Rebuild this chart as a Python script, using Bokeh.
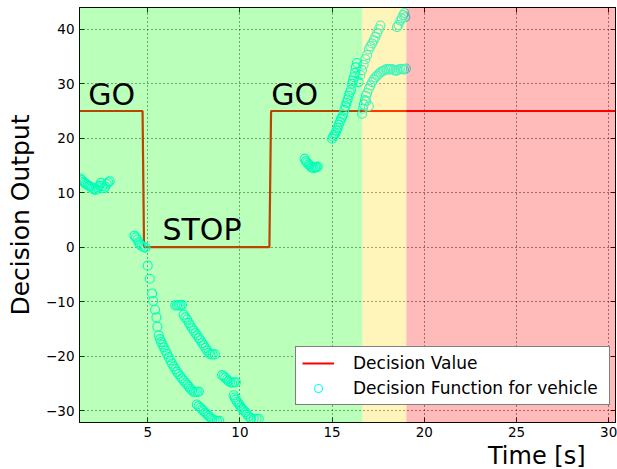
from bokeh.plotting import figure
from bokeh.models import (LinearAxis, FixedTicker, BoxAnnotation, Label, Legend,
                          LegendItem, ColumnDataSource, Title)
from bokeh.embed import file_html
from bokeh.resources import INLINE

# ---------------- data ----------------
x_ticks = [5, 10, 15, 20, 25, 30]
y_ticks = [-30, -20, -10, 0, 10, 20, 30, 40]

# decision value (step line)
dv_t = [1.3, 4.72, 4.80, 11.60, 11.69, 30.4]
dv_v = [25, 25, 0, 0, 25, 25]

# decision function samples, by branch
a_t = [1.35, 1.42, 1.50, 1.58, 1.66, 1.74, 1.82, 1.90, 1.98, 2.06, 2.14, 2.22, 2.30, 2.38, 2.46, 2.54, 2.62, 2.70, 2.78, 2.86, 2.94]
a_v = [12.6, 12.3, 12.0, 11.8, 11.6, 11.4, 11.2, 11.1, 10.9, 10.7, 10.5, 10.6, 11.0, 11.3, 11.8, 11.2, 10.8, 11.1, 11.6, 11.9, 12.1]

b_t = [4.28, 4.36, 4.44, 4.50, 4.58, 4.66, 4.78, 4.88]
b_v = [2.1, 1.8, 1.4, 0.9, 0.5, 0.2, 0.0, -0.1]

c_t = [5.00, 5.11, 5.24, 5.30, 5.40, 5.47, 5.52, 5.60, 5.67, 5.73, 5.80, 5.87, 5.96, 6.05, 6.14, 6.23, 6.32, 6.41, 6.50, 6.59, 6.68, 6.77, 6.86, 6.95, 7.04, 7.14, 7.23, 7.32, 7.41, 7.50, 7.60, 7.70, 7.78]
c_v = [-3.4, -5.8, -8.5, -9.9, -11.5, -12.9, -14.6, -16.2, -16.9, -17.4, -17.9, -18.4, -19.0, -19.6, -20.2, -20.8, -21.4, -21.9, -22.4, -22.9, -23.3, -23.7, -24.1, -24.5, -24.9, -25.2, -25.6, -26.0, -26.3, -26.6, -26.6, -26.6, -26.5]

c2_t = [7.66, 7.76, 7.86, 7.95, 8.04, 8.13, 8.22, 8.31, 8.40, 8.50, 8.62, 8.75, 8.88]
c2_v = [-28.9, -29.2, -29.5, -29.8, -30.1, -30.4, -30.7, -31.0, -31.3, -31.6, -31.8, -31.9, -31.9]

d_t = [6.50, 6.59, 6.68, 6.77, 6.86, 6.95, 7.04, 7.14, 7.23, 7.32, 7.41, 7.50, 7.59, 7.68, 7.77, 7.86, 7.95, 8.04, 8.13, 8.22, 8.31, 8.40, 8.52, 8.64]
d_v = [-10.7, -10.7, -10.7, -10.7, -10.6, -12.4, -12.9, -13.3, -13.9, -14.4, -14.9, -15.3, -15.8, -16.2, -16.7, -17.1, -17.6, -18.0, -18.5, -19.0, -19.4, -19.7, -19.7, -19.7]

e_t = [9.03, 9.12, 9.21, 9.30, 9.39, 9.48, 9.58, 9.68, 9.78]
e_v = [-23.5, -23.7, -24.0, -24.3, -24.6, -24.8, -24.9, -24.8, -24.8]

f_t = [9.66, 9.72, 9.78, 9.85, 9.92, 9.99, 10.06, 10.12, 10.21, 10.30, 10.39, 10.48, 10.60, 10.75, 10.90, 11.02]
f_v = [-27.2, -27.6, -28.0, -28.4, -28.7, -29.0, -29.4, -29.7, -30.0, -30.3, -30.7, -31.1, -31.4, -31.5, -31.5, -31.5]

g_t = [13.51, 13.58, 13.64, 13.72, 13.79, 13.86, 13.93, 14.00, 14.09, 14.16, 14.22]
g_v = [16.2, 15.8, 15.5, 15.2, 15.0, 14.7, 14.6, 14.5, 14.6, 14.7, 14.8]

h_t = [15.00, 15.06, 15.12, 15.18, 15.24, 15.30, 15.36, 15.42, 15.48, 15.54, 15.60, 15.66, 15.72, 15.78, 15.84, 15.90, 15.96, 16.03, 16.08, 16.13, 16.18, 16.24, 16.28, 16.34]
h_v = [19.9, 20.3, 20.6, 20.9, 21.4, 21.9, 22.5, 23.0, 23.5, 23.9, 24.3, 25.2, 25.9, 26.5, 27.1, 27.8, 28.4, 28.9, 30.0, 30.6, 31.2, 32.0, 33.0, 33.8]

i_t = [16.44, 16.53, 16.62, 16.71, 16.80, 16.90, 16.99, 17.08, 17.17, 17.26, 17.35, 17.44, 17.53, 17.62]
i_v = [30.3, 31.6, 32.5, 33.5, 34.5, 35.3, 36.3, 36.9, 37.4, 38.0, 38.6, 39.3, 40.0, 40.7]

j_t = [18.52, 18.60, 18.70, 18.78, 18.85, 18.92, 18.97]
j_v = [40.4, 40.8, 41.6, 42.0, 42.6, 43.0, 42.2]

k_t = [16.63, 16.68, 16.72, 16.78, 16.84, 16.85, 16.90, 16.99, 16.99, 17.08, 17.17, 17.26, 17.35, 17.44, 17.53, 17.62, 17.71, 17.80, 17.89, 17.98, 18.07, 18.16, 18.25, 18.34, 18.43, 18.52, 18.61, 18.70, 18.80, 18.90, 19.00]
k_v = [24.5, 25.4, 26.2, 27.0, 27.8, 26.8, 28.3, 29.1, 25.9, 29.7, 30.3, 30.8, 31.2, 31.5, 31.8, 32.1, 32.3, 32.4, 32.6, 32.7, 32.6, 32.7, 32.7, 32.5, 32.4, 32.4, 32.6, 32.7, 32.7, 32.6, 32.8]

df_t = a_t + b_t + c_t + c2_t + d_t + e_t + f_t + g_t + h_t + i_t + j_t + k_t
df_v = a_v + b_v + c_v + c2_v + d_v + e_v + f_v + g_v + h_v + i_v + j_v + k_v

# zone boundaries (time, s)
zone_go_end = 16.64
zone_warn_end = 19.03

# ---------------- figure ----------------
FONT = "DejaVu Sans"
p = figure(width=617, height=469, x_range=(1.3, 30.37), y_range=(-32.2, 44.0),
           output_backend="svg", toolbar_location=None,
           min_border_left=79, min_border_right=2, min_border_top=7, min_border_bottom=47)
p.background_fill_color = "white"
p.border_fill_color = "white"
p.outline_line_color = "black"
p.outline_line_width = 1

minus = lambda n: ("\u2212" + str(-n)) if n < 0 else str(n)

p.xaxis.ticker = FixedTicker(ticks=x_ticks)
p.yaxis.ticker = FixedTicker(ticks=y_ticks)
p.yaxis.major_label_overrides = {t: minus(t) for t in y_ticks}
for ax in (p.xaxis[0], p.yaxis[0]):
    ax.major_tick_in = 5
    ax.major_tick_out = 0
    ax.minor_tick_in = 0
    ax.minor_tick_out = 0
    ax.major_tick_line_color = "black"
    ax.axis_line_color = "black"
    ax.major_label_text_font = FONT
    ax.major_label_text_font_size = "13.5px"
    ax.major_label_text_color = "black"
p.xaxis.major_label_standoff = 4
p.yaxis.major_label_standoff = 5
p.yaxis.axis_label = "Decision Output"
p.yaxis.axis_label_text_font = FONT
p.yaxis.axis_label_text_font_size = "25px"
p.yaxis.axis_label_text_font_style = "normal"
p.yaxis.axis_label_text_color = "black"
p.yaxis.axis_label_standoff = 8

# mirror ticks on top and right
top_ax = LinearAxis(ticker=FixedTicker(ticks=x_ticks),
                    major_label_overrides={t: "" for t in x_ticks},
                    major_label_text_font_size="0px", major_label_standoff=0,
                    major_tick_in=5, major_tick_out=0, minor_tick_in=0, minor_tick_out=0,
                    axis_line_color="black")
right_ax = LinearAxis(ticker=FixedTicker(ticks=y_ticks),
                      major_label_overrides={t: "" for t in y_ticks},
                      major_label_text_font_size="0px", major_label_standoff=0,
                      major_tick_in=5, major_tick_out=0, minor_tick_in=0, minor_tick_out=0,
                      axis_line_color="black")
p.add_layout(top_ax, "above")
p.add_layout(right_ax, "right")

# x axis title, right-aligned like the reference
p.add_layout(Title(text="Time [s]", align="right", offset=30, standoff=0,
                   text_font=FONT, text_font_size="24px", text_font_style="normal",
                   text_color="black"), "below")

p.grid.grid_line_color = "black"
p.grid.grid_line_dash = "1 3"
p.grid.grid_line_alpha = 0.9
p.grid.grid_line_width = 1

# data
line_r = p.line(dv_t, dv_v, line_color="red", line_width=2.2)
src = ColumnDataSource(dict(t=df_t, v=df_v))
sc_r = p.scatter("t", "v", source=src, size=9, fill_color=None, line_color="cyan", line_width=1.1)

# zones drawn over the data with transparency
p.add_layout(BoxAnnotation(right=zone_go_end, fill_color=(0, 255, 0), fill_alpha=0.27, line_alpha=0))
p.add_layout(BoxAnnotation(left=zone_go_end, right=zone_warn_end, fill_color=(255, 215, 0), fill_alpha=0.27, line_alpha=0))
p.add_layout(BoxAnnotation(left=zone_warn_end, fill_color=(255, 0, 0), fill_alpha=0.27, line_alpha=0))

# annotations
for txt, x, y in [("GO", 1.78, 28.0), ("STOP", 5.8, 3.3), ("GO", 11.7, 28.0)]:
    p.add_layout(Label(x=x, y=y, text=txt, text_font=FONT, text_font_size="30px",
                       text_color="black", text_baseline="alphabetic", text_align="left"))

legend = Legend(items=[LegendItem(label="Decision Value", renderers=[line_r]),
                       LegendItem(label="Decision Function for vehicle", renderers=[sc_r])],
                location=(216, 17), orientation="vertical",
                padding=6, spacing=5, margin=0,
                glyph_width=32, glyph_height=20, label_standoff=19, label_width=250,
                label_text_font=FONT, label_text_font_size="17px", label_text_color="black",
                border_line_color="black", border_line_width=1.5,
                background_fill_color="white", background_fill_alpha=1.0)
p.add_layout(legend, "center")

open("out.html", "w").write(file_html(p, INLINE))
